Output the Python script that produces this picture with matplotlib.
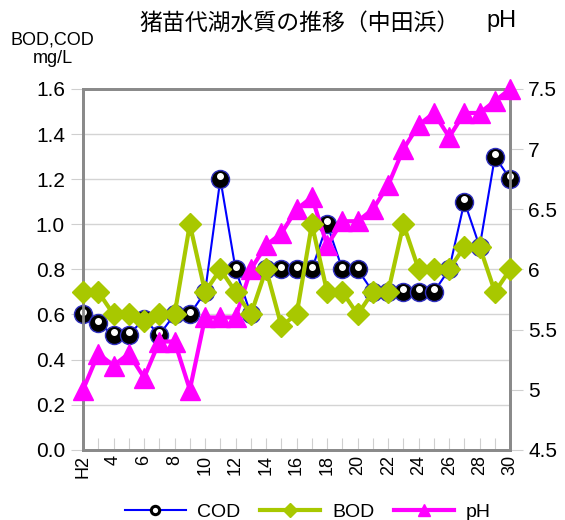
import numpy as np
import matplotlib.pyplot as plt
from matplotlib.transforms import ScaledTranslation

plt.rcParams['font.family'] = ['Liberation Sans', 'Noto Sans CJK JP', 'DejaVu Sans']

# 平成2年～30年
years = ['H2'] + [str(y) for y in range(3, 31)]
cod = [0.6, 0.56, 0.51, 0.51, 0.58, 0.51, 0.6, 0.6, 0.7, 1.2,
       0.8, 0.6, 0.8, 0.8, 0.8, 0.8, 1.0, 0.8, 0.8, 0.7,
       0.7, 0.7, 0.7, 0.7, 0.8, 1.1, 0.9, 1.3, 1.2]
bod = [0.7, 0.7, 0.6, 0.6, 0.57, 0.6, 0.6, 1.0, 0.7, 0.8,
       0.7, 0.6, 0.8, 0.55, 0.6, 1.0, 0.7, 0.7, 0.6, 0.7,
       0.7, 1.0, 0.8, 0.8, 0.8, 0.9, 0.9, 0.7, 0.8]
ph = [5.0, 5.3, 5.2, 5.3, 5.1, 5.4, 5.4, 5.0, 5.6, 5.6,
      5.6, 6.0, 6.2, 6.3, 6.5, 6.6, 6.2, 6.4, 6.4, 6.5,
      6.7, 7.0, 7.2, 7.3, 7.1, 7.3, 7.3, 7.4, 7.5]

x = np.arange(len(years))

fig = plt.figure(figsize=(5.65, 5.2), dpi=100)
ax = fig.add_axes([0.147, 0.135, 0.756, 0.694])
ax2 = ax.twinx()

frame = '#8a8a8a'
ax.set_xlim(0, len(years) - 1)
ax.set_ylim(0, 1.6)
ax2.set_ylim(4.5, 7.5)
ax.set_yticks(np.arange(0, 1.61, 0.2))
ax.set_yticklabels(['%.1f' % v for v in np.arange(0, 1.61, 0.2)])
ax2.set_yticks(np.arange(4.5, 7.51, 0.5))
ax2.set_yticklabels(['4.5', '5', '5.5', '6', '6.5', '7', '7.5'])
ax.grid(axis='y', color='#d4d4d4', lw=1)
ax.set_axisbelow(True)

ax.set_xticks(x)
ax.set_xticklabels([lab if i % 2 == 0 else '' for i, lab in enumerate(years)],
                   rotation=90, fontsize=13)
ax.tick_params(axis='x', direction='in', length=9, color='#cfcfcf', pad=4)
ax.tick_params(axis='y', direction='out', length=9, color='#cfcfcf',
               labelsize=15, pad=4)
ax2.tick_params(axis='y', direction='out', length=9, color='#cfcfcf',
                labelsize=15, pad=4)
for a in (ax, ax2):
    for s in a.spines.values():
        s.set_color(frame)
        s.set_linewidth(2)

# COD: 黒い球
ax.plot(x, cod, color='#0000ff', lw=1.5, marker='o', ms=13,
        mfc='black', mec='#3030c0', mew=1, zorder=3, clip_on=False)
shine = ax.transData + ScaledTranslation(0, 2 / 72, fig.dpi_scale_trans)
ax.plot(x, cod, ls='none', marker='o', ms=4, mfc='white', mec='white',
        transform=shine, zorder=3.1, clip_on=False)

ax2.plot(x, ph, color='#ff00ff', lw=3, marker='^', ms=14,
         mfc='#ff00ff', mec='#ff00ff', zorder=4, clip_on=False)
ax2.set_zorder(ax.get_zorder() + 1)
ax2.patch.set_visible(False)

# BOD は最前面
ax3 = ax.twinx()
ax3.set_ylim(0, 1.6)
ax3.set_axis_off()
ax3.set_zorder(ax2.get_zorder() + 1)
ax3.set_xlim(0, len(years) - 1)
ax3.plot(x, bod, color='#a8c800', lw=3, marker='D', ms=11,
         mfc='#a8c800', mec='#a8c800', clip_on=False)

fig.text(0.53, 0.955, '猪苗代湖水質の推移（中田浜）', ha='center', va='center',
         fontsize=16.5, family=['Noto Sans CJK JP', 'DejaVu Sans'])
fig.text(0.888, 0.96, 'pH', ha='center', va='center', fontsize=17)
fig.text(0.093, 0.905, 'BOD,COD\nmg/L', ha='center', va='center',
         fontsize=13, linespacing=1.1)

h_cod = plt.Line2D([], [], color='#0000ff', lw=1.5, marker='o', ms=6,
                   mfc='white', mec='black', mew=2.2)
h_bod = plt.Line2D([], [], color='#a8c800', lw=3, marker='D', ms=7)
h_ph = plt.Line2D([], [], color='#ff00ff', lw=3, marker='^', ms=9)
fig.legend([h_cod, h_bod, h_ph], ['COD', 'BOD', 'pH'], loc='center',
           bbox_to_anchor=(0.545, 0.015), ncol=3, frameon=False, fontsize=14,
           handlelength=3.1, columnspacing=1.0, handletextpad=0.6)

fig.savefig('out.png', dpi=100)
